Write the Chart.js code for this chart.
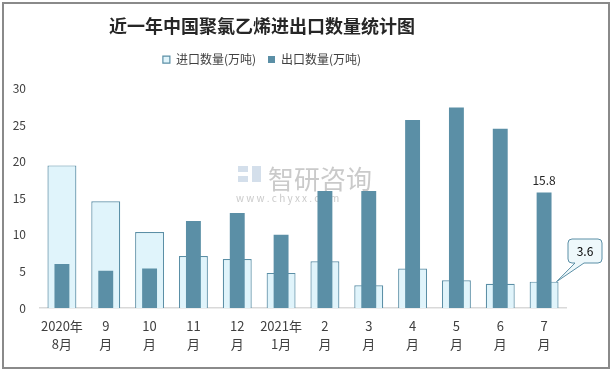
<!DOCTYPE html>
<html>
<head>
<meta charset="utf-8">
<script src="https://cdn.jsdelivr.net/npm/chart.js@4"></script>
<style>
  body{margin:0;background:#fff;}
  #wrap{position:absolute;left:2px;top:2px;width:604px;height:363px;border:2px solid #8a8a8a;}
  #c{position:absolute;left:-4px;top:-4px;}
</style>
</head>
<body>
<div id="wrap"><canvas id="c" width="612" height="371"></canvas></div>
<script>
const months = [["2020年","8月"],["9","月"],["10","月"],["11","月"],["12","月"],["2021年","1月"],["2","月"],["3","月"],["4","月"],["5","月"],["6","月"],["7","月"]];
const importVals = [19.5, 14.6, 10.4, 7.1, 6.7, 4.8, 6.4, 3.1, 5.4, 3.8, 3.3, 3.6];
const exportVals = [6.0, 5.1, 5.4, 11.9, 13.0, 10.0, 16.0, 16.0, 25.7, 27.4, 24.5, 15.8];
const yTicks = [0, 5, 10, 15, 20, 25, 30];

const FONT = "'Noto Sans CJK SC', 'Noto Sans', sans-serif";

// title/legend sit left of the plot centre in the original
const headerShift = {
  id: 'headerShift',
  beforeInit(chart) {
    const lg = chart.legend;
    const fit = lg.fit;
    lg.fit = function () { fit.call(this); this.height += 13; };
  },
  afterLayout(chart) {
    [chart.titleBlock, chart.legend].forEach(b => {
      const d = 262 - (b.left + b.right) / 2;
      b.left += d; b.right += d;
    });
  }
};

// watermark + labels on the last month
const extras = {
  id: 'extras',
  beforeDatasetsDraw(chart) {
    const c = chart.ctx;
    c.save();
    c.fillStyle = 'rgba(160,185,210,0.45)';
    c.fillRect(238, 166, 10, 6);
    c.fillRect(238, 176, 10, 6);
    c.fillRect(252, 166, 9, 16);
    c.fillStyle = 'rgba(150,150,150,0.5)';
    c.font = "26px " + FONT;
    c.textBaseline = 'middle';
    c.fillText('智研咨询', 268, 179);
    c.font = "10px " + FONT;
    c.fillText('w w w . c h y x x . c o m', 236, 198);
    c.restore();
  },
  afterDatasetsDraw(chart) {
    const c = chart.ctx;
    const last = months.length - 1;
    const ex = chart.getDatasetMeta(1).data[last];
    const im = chart.getDatasetMeta(0).data[last];
    c.save();
    c.font = "12px " + FONT;
    c.fillStyle = '#262626';
    c.textAlign = 'center';
    c.textBaseline = 'bottom';
    c.fillText(exportVals[last].toFixed(1), ex.x, ex.y - 6);
    // callout
    const bx = 568, by = 239, bw = 34, bh = 24, r = 4;
    const tipX = im.x + im.width / 2 - 2, tipY = im.y;
    c.beginPath();
    c.moveTo(bx + r, by);
    c.lineTo(bx + bw - r, by);
    c.arcTo(bx + bw, by, bx + bw, by + r, r);
    c.lineTo(bx + bw, by + bh - r);
    c.arcTo(bx + bw, by + bh, bx + bw - r, by + bh, r);
    c.lineTo(bx + 16, by + bh);
    c.lineTo(tipX, tipY);
    c.lineTo(bx + 7, by + bh);
    c.lineTo(bx + r, by + bh);
    c.arcTo(bx, by + bh, bx, by + bh - r, r);
    c.lineTo(bx, by + r);
    c.arcTo(bx, by, bx + r, by, r);
    c.closePath();
    c.fillStyle = '#eef8fb';
    c.fill();
    c.strokeStyle = '#5b8fa6';
    c.lineWidth = 1;
    c.stroke();
    c.fillStyle = '#000';
    c.textBaseline = 'middle';
    c.fillText(importVals[last].toFixed(1), bx + bw / 2, by + bh / 2);
    c.restore();
  }
};

new Chart(document.getElementById('c'), {
  type: 'bar',
  data: {
    labels: months,
    datasets: [{
      label: '进口数量(万吨)',
      data: importVals,
      backgroundColor: '#e0f4fb',
      borderColor: '#5b8fa6',
      borderWidth: 1.2,
      grouped: false,
      barPercentage: 0.66,
      categoryPercentage: 1,
      order: 2
    }, {
      label: '出口数量(万吨)',
      data: exportVals,
      backgroundColor: '#5b8fa6',
      borderColor: '#5b8fa6',
      borderWidth: 0,
      grouped: false,
      barPercentage: 0.34,
      categoryPercentage: 1,
      order: 1
    }]
  },
  options: {
    responsive: false,
    animation: false,
    layout: { padding: { left: 0, right: 46, top: 8, bottom: 0 } },
    plugins: {
      tooltip: { enabled: false },
      title: {
        display: true,
        text: '近一年中国聚氯乙烯进出口数量统计图',
        color: '#262626',
        font: { family: FONT, size: 18, weight: 'bold' },
        padding: { top: 7, bottom: 5 }
      },
      legend: {
        labels: {
          color: '#404040',
          font: { family: FONT, size: 12 },
          boxWidth: 7,
          boxHeight: 7,
          padding: 12,
          sort: (a, b) => a.datasetIndex - b.datasetIndex
        }
      }
    },
    scales: {
      x: {
        afterFit: (s) => { s.height = 63; },
        grid: { display: false, drawTicks: false },
        border: { color: '#d9d9d9', width: 1.5 },
        ticks: { color: '#404040', font: { family: FONT, size: 13, lineHeight: 1.4 }, maxRotation: 0, autoSkip: false, padding: 9 }
      },
      y: {
        min: 0, max: 30,
        afterBuildTicks: (s) => { s.ticks = yTicks.map(v => ({ value: v })); },
        afterFit: (s) => { s.width = 40; },
        grid: { display: false, drawTicks: false },
        border: { display: false },
        ticks: { color: '#404040', font: { family: FONT, size: 12 }, padding: 14 }
      }
    }
  },
  plugins: [headerShift, extras]
});
</script>
</body>
</html>
